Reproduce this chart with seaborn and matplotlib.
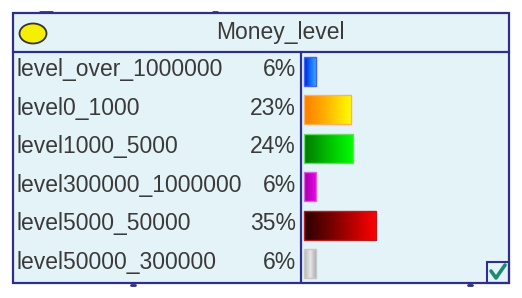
import numpy as np
import matplotlib.pyplot as plt
import seaborn as sns
from matplotlib.patches import Rectangle, Ellipse
from matplotlib.lines import Line2D
from matplotlib.colors import LinearSegmentedColormap

title = 'Money_level'
levels = ['level_over_1000000', 'level0_1000', 'level1000_5000',
          'level300000_1000000', 'level5000_50000', 'level50000_300000']
percents = [6, 23, 24, 6, 35, 6]
gradients = [['#0020c8', '#1070ff', '#48a8ff'],
             ['#ff7c00', '#ffb800', '#ffff00'],
             ['#007a00', '#00c000', '#00ff00'],
             ['#a000a8', '#c800c8', '#f000f0'],
             ['#2a0000', '#900000', '#ff0000'],
             ['#b4b4b4', '#e6e6e6', '#a6a6a6']]
edges = ['#4060ff', '#ffb060', '#60e060', '#e060e0', '#b02020', '#c8c8c8']

W, H = 522, 298
bg = '#e4f3f7'
navy = '#2e2e8e'
txt = '#3a3a3a'


def fx(x):
    return x / W


def fy(y):
    return 1 - y / H


sns.set_theme(style='white')
plt.rcParams['font.family'] = ['Liberation Sans', 'DejaVu Sans']

fig = plt.figure(figsize=(W / 100, H / 100), dpi=100)
fig.patch.set_facecolor('white')

# node box
fig.patches.append(Rectangle((fx(13), fy(283)), fx(509) - fx(13), fy(13) - fy(283),
                             transform=fig.transFigure, facecolor=bg,
                             edgecolor='none', zorder=-10))

# header
fig.patches.append(Ellipse((fx(33), fy(33.5)), 27 / W, 20 / H, transform=fig.transFigure,
                           facecolor='#f4f000', edgecolor='#333333', lw=1.3))
fig.text(fx(280), fy(33), title, ha='center', va='center', fontsize=16.5, color=txt)

# bars
ax = fig.add_axes([fx(301), fy(283), fx(509) - fx(301), fy(52) - fy(283)])
ax.set_facecolor('none')
sns.barplot(x=percents, y=levels, orient='h', ax=ax, width=0.76, color='white')
for p, cols, ec in zip(ax.patches, gradients, edges):
    x0, y0 = p.get_x(), p.get_y()
    w, h = p.get_width(), p.get_height()
    cmap = LinearSegmentedColormap.from_list('g', cols)
    im = ax.imshow(np.linspace(0, 1, 64).reshape(1, -1), cmap=cmap, aspect='auto',
                   extent=(x0, x0 + w, y0 + h, y0), zorder=2)
    im.set_clip_path(p)
    p.set_facecolor('none')
    p.set_edgecolor(ec)
    p.set_linewidth(1.0)
    p.set_zorder(3)
ax.set_xlim(-1.5, 100)
ax.set_ylim(5.5, -0.5)
ax.set_xlabel('')
ax.set_ylabel('')
ax.set_xticks([])
ax.set_yticks([])
for s in ax.spines.values():
    s.set_visible(False)

# labels
lax = fig.add_axes([fx(13), fy(283), fx(301) - fx(13), fy(52) - fy(283)])
lax.set_facecolor('none')
lax.set_xlim(13, 301)
lax.set_ylim(5.5, -0.5)
lax.axis('off')
for i, (name, pct) in enumerate(zip(levels, percents)):
    lax.text(16, i - 0.04, name, ha='left', va='center', fontsize=16.5, color=txt)
    lax.text(296, i - 0.04, f'{pct}%', ha='right', va='center', fontsize=16.5, color=txt)

# outline and dividers
fig.patches.append(Rectangle((fx(13), fy(283)), fx(509) - fx(13), fy(13) - fy(283),
                             transform=fig.transFigure, facecolor='none',
                             edgecolor=navy, lw=1.6, zorder=5))
fig.lines.append(Line2D([fx(13), fx(509)], [fy(52), fy(52)], transform=fig.transFigure,
                        color=navy, lw=1.6, zorder=5))
fig.lines.append(Line2D([fx(301), fx(301)], [fy(52), fy(283)], transform=fig.transFigure,
                        color=navy, lw=1.6, zorder=5))

# check box
fig.patches.append(Rectangle((fx(487), fy(283)), fx(509) - fx(487), fy(262) - fy(283),
                             transform=fig.transFigure, facecolor='none',
                             edgecolor=navy, lw=1.5, zorder=5))
fig.lines.append(Line2D([fx(491), fx(496), fx(505)], [fy(271), fy(278), fy(265)],
                        transform=fig.transFigure, color='#1f8a74', lw=2.6,
                        solid_capstyle='round', zorder=5))

# connector stubs
for xa, xb, y in [(40, 52, 11.5), (213, 217, 11.5), (131, 135, 285), (468, 472, 285)]:
    fig.lines.append(Line2D([fx(xa), fx(xb)], [fy(y), fy(y)], transform=fig.transFigure,
                            color=navy, lw=2, zorder=5))

fig.savefig('out.png', dpi=100)
